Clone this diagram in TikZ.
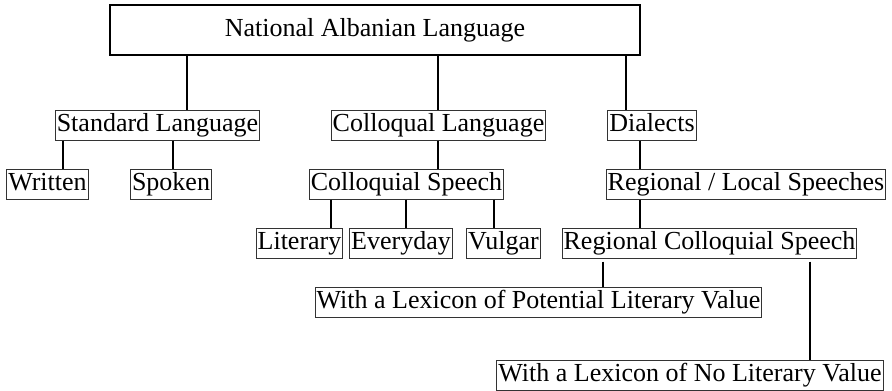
\documentclass[tikz,border=0pt]{standalone}
\usepackage{fontspec}
\setmainfont{Liberation Serif}

\begin{document}
\begin{tikzpicture}[
  x=1pt, y=-1pt,
  rootbox/.style={rectangle, draw, line width=1.8pt, minimum width=530pt, minimum height=50pt, font=\rmfamily\fontsize{26}{30}\selectfont},
  catbox/.style={rectangle, draw=black!80, line width=1pt, inner xsep=1.5pt, inner ysep=3pt, text height=18pt, text depth=6pt, font=\rmfamily\fontsize{26}{30}\selectfont},
  link/.style={line width=1.6pt}
]
\useasboundingbox (0,0) rectangle (892,391);

% ---------- Root ----------
\node[rootbox] (root) at (375,30) {National Albanian Language};

% ---------- Second level ----------
\node[catbox] (std) at (157.5,125) {Standard Language};
\node[catbox] (coll) at (438.5,125) {Colloqual Language};
\node[catbox] (dial) at (652,125) {Dialects};

% ---------- Third level ----------
\node[catbox] (written) at (47.5,184) {Written};
\node[catbox] (spoken) at (171,184) {Spoken};
\node[catbox] (collsp) at (406.5,184) {Colloquial Speech};
\node[catbox] (regloc) at (746,184) {Regional / Local Speeches};

% ---------- Fourth level ----------
\node[catbox] (literary) at (299.5,243) {Literary};
\node[catbox] (everyday) at (401,243) {Everyday};
\node[catbox] (vulgar) at (503.5,243) {Vulgar};
\node[catbox] (regcoll) at (709.5,243) {Regional Colloquial Speech};

% ---------- Lexicon ----------
\node[catbox] (potential) at (538.5,302) {With a Lexicon of Potential Literary Value};
\node[catbox] (noval) at (690,375) {With a Lexicon of No Literary Value};

% ---------- Columns of the connectors ----------
\coordinate (xstd) at (187,0);
\coordinate (xcoll) at (438,0);
\coordinate (xdial) at (626,0);
\coordinate (xwri) at (63,0);
\coordinate (xspo) at (173,0);
\coordinate (xreg) at (640,0);
\coordinate (xlit) at (331,0);
\coordinate (xeve) at (406,0);
\coordinate (xvul) at (494,0);
\coordinate (xpot) at (603,0);
\coordinate (xno) at (810,0);

% ---------- Connectors ----------
\draw[link] (xstd |- root.south) -- (xstd |- std.north);
\draw[link] (xcoll |- root.south) -- (xcoll |- coll.north);
\draw[link] (xdial |- root.south) -- (xdial |- dial.north);
\draw[link] (xwri |- std.south) -- (xwri |- written.north);
\draw[link] (xspo |- std.south) -- (xspo |- spoken.north);
\draw[link] (xcoll |- coll.south) -- (xcoll |- collsp.north);
\draw[link] (xreg |- dial.south) -- (xreg |- regloc.north);
\draw[link] (xlit |- collsp.south) -- (xlit |- literary.north);
\draw[link] (xeve |- collsp.south) -- (xeve |- everyday.north);
\draw[link] (xvul |- collsp.south) -- (xvul |- vulgar.north);
\draw[link] (xreg |- regloc.south) -- (xreg |- regcoll.north);
\draw[link] ([yshift=-3pt]xpot |- regcoll.south) -- (xpot |- potential.north);
\draw[link] ([yshift=-3pt]xno |- regcoll.south) -- (xno |- noval.north);

\end{tikzpicture}
\end{document}
